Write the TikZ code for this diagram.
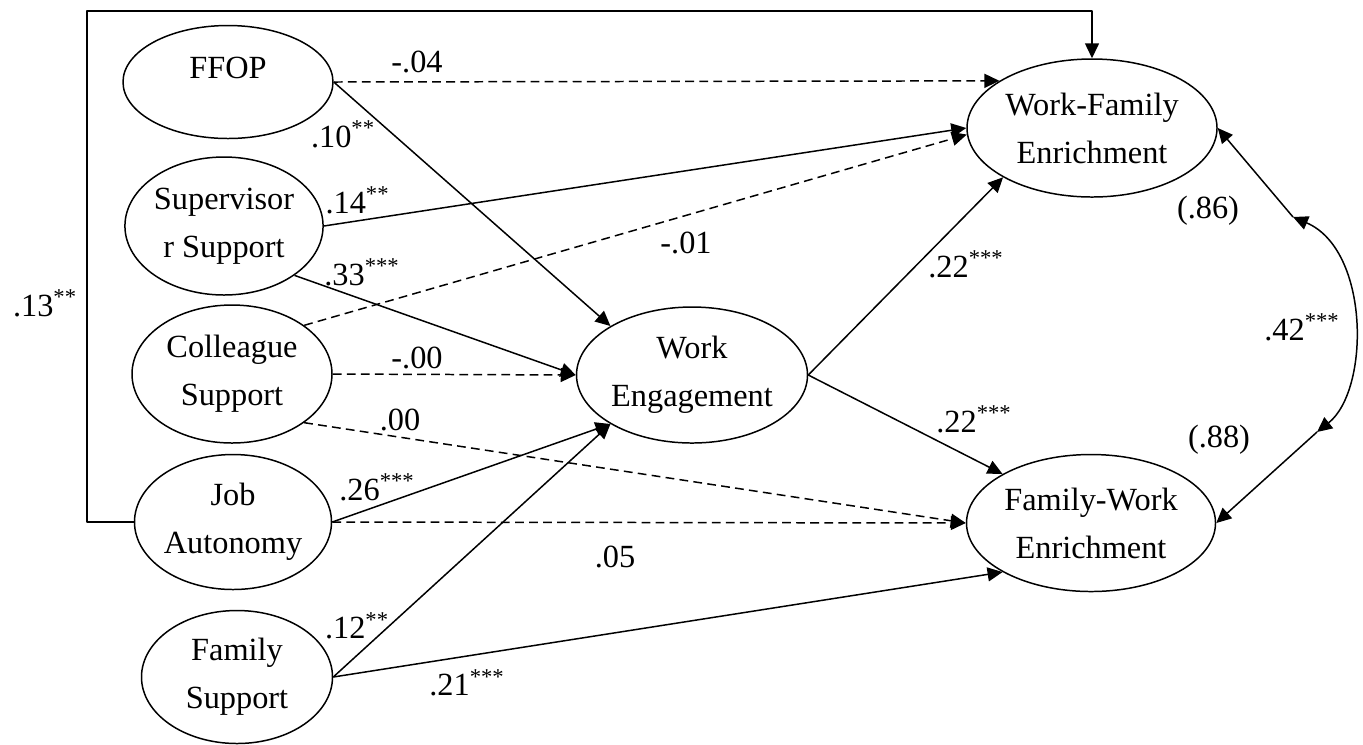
\documentclass[tikz,border=0pt]{standalone}
\usepackage{fontspec}
\setmainfont{Liberation Serif}
\usetikzlibrary{arrows.meta,shapes.geometric}
\newcommand{\sig}[1]{\textsuperscript{#1}}
\begin{document}
\begin{tikzpicture}[>={Triangle[length=3mm,width=2.8mm]}, line width=0.85pt,
    font=\fontsize{18.4}{27.3}\selectfont, line join=round,
    latent/.style={draw, ellipse, inner sep=0pt, align=center},
    path/.style={->},
    nsig/.style={->, dash pattern=on 5pt off 3pt},
    coef/.style={anchor=base, inner sep=0pt}]
    \useasboundingbox (0,0) rectangle (27.26,-14.88);
    % bien doc lap
    \node[latent, minimum width=4.2cm, minimum height=2.26cm] (ffop) at (4.56,-1.64) {};
    \node[inner sep=0pt] (ffoptxt) at ([yshift=0.28cm]ffop.center) {FFOP};
    \node[latent, minimum width=3.96cm, minimum height=2.76cm] (sup) at (4.48,-4.52) {Supervisor\\r Support};
    \node[latent, minimum width=4cm, minimum height=2.76cm] (col) at (4.64,-7.48) {Colleague\\Support};
    \node[latent, minimum width=3.94cm, minimum height=2.7cm] (job) at (4.66,-10.44) {Job\\Autonomy};
    \node[latent, minimum width=3.82cm, minimum height=2.66cm] (fam) at (4.74,-13.54) {Family\\Support};
    % trung gian va phu thuoc
    \node[latent, minimum width=4.62cm, minimum height=2.72cm] (we) at (13.84,-7.5) {Work\\Engagement};
    \node[latent, minimum width=5cm, minimum height=2.76cm] (wfe) at (21.84,-2.56) {Work-Family\\Enrichment};
    \node[latent, minimum width=4.98cm, minimum height=2.74cm] (fwe) at (21.82,-10.46) {Family-Work\\Enrichment};
    \coordinate (tl) at (1.74,-0.22);
    \coordinate (c1) at (25.86,-4.34);
    \coordinate (c2) at (26.34,-8.64);
    % duong dan
    \draw[nsig] (ffop.east) -- (wfe.153);
    \draw[path] (ffop.east) -- (we.149);
    \draw[path] (sup.east) -- (wfe.west);
    \draw[path] (sup.-35) -- (we.west);
    \draw[nsig] (col.34) -- (wfe.183);
    \draw[nsig] (col.east) -- (we.west);
    \draw[nsig] (col.-34) -- (fwe.west);
    \draw[path] (job.east) -- (we.211);
    \draw[nsig] (job.east) -- (fwe.west);
    \draw[path] (fam.east) -- (we.211);
    \draw[path] (fam.east) -- (fwe.209);
    \draw[path] (we.east) -- (wfe.209);
    \draw[path] (we.east) -- (fwe.151);
    \draw[path] (job.west) -| (tl) -| (wfe.north);
    \draw[path] (c1) -- (wfe.east);
    \draw[path] (c2) -- (fwe.east);
    \draw[<->] (c1) .. controls (27.4,-5.0) and (27.4,-7.8) .. (c2);
    % he so
    \node[coef] (k04) at (8.34,-1.44) {-.04};
    \node[coef] (k10) at (6.86,-2.94) {.10\sig{**}};
    \node[coef] (k14) at (7.15,-4.26) {.14\sig{**}};
    \node[coef] (k33) at (7.24,-5.7) {.33\sig{***}};
    \node[coef] (k01) at (13.72,-5.06) {-.01};
    \node[coef] (k00a) at (8.34,-7.36) {-.00};
    \node[coef] (k00b) at (8.0,-8.6) {.00};
    \node[coef] (k26) at (7.54,-10.0) {.26\sig{***}};
    \node[coef] (k05) at (12.3,-11.34) {.05};
    \node[coef] (k12) at (7.14,-12.76) {.12\sig{**}};
    \node[coef] (k21) at (9.34,-13.9) {.21\sig{***}};
    \node[coef] (k22a) at (19.32,-5.54) {.22\sig{***}};
    \node[coef] (k22b) at (19.48,-8.64) {.22\sig{***}};
    \node[coef] (k86) at (24.16,-4.36) {(.86)};
    \node[coef] (k88) at (24.38,-8.94) {(.88)};
    \node[coef] (k42) at (26.04,-6.8) {.42\sig{***}};
    \node[coef] (k13) at (0.9,-6.32) {.13\sig{**}};
\end{tikzpicture}
\end{document}
